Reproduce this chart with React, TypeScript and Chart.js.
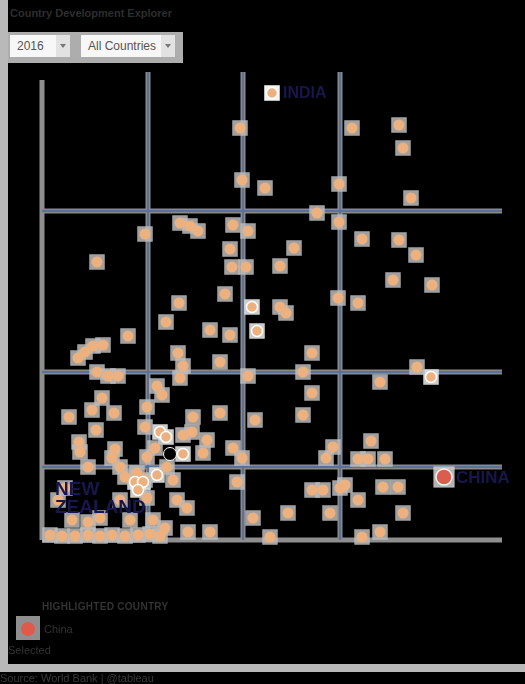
import React, { useEffect, useRef } from "react";
import { Chart, registerables } from "chart.js";
Chart.register(...registerables);

// ---- data ----
const countryX = [
  19.8, 31.0, 35.7, 36.1, 20.0, 22.3, 29.7, 36.9, 27.5, 29.7,
  10.3, 13.8, 14.8, 15.6, 19.1, 20.6, 5.5, 18.8, 19.0, 20.4,
  18.3, 13.7, 12.4, 8.6, 16.8, 18.8, 5.1, 6.1, 4.3, 3.6,
  5.5, 6.6, 7.6, 13.6, 14.1, 13.8, 17.8, 20.6, 32.0, 35.7,
  37.4, 25.2, 23.8, 35.1, 39.0, 29.6, 31.6, 23.8, 24.4, 27.0,
  26.1, 37.5, 33.8, 27.0, 26.1, 6.0, 5.0, 2.7, 7.2, 5.4,
  3.7, 3.8, 7.3, 7.0, 7.8, 4.6, 10.5, 10.3, 11.5, 12.0,
  15.1, 14.1, 15.0, 16.5, 11.3, 16.1, 10.5, 17.8, 21.3, 19.1,
  20.0, 19.5, 13.1, 12.5, 13.5, 14.5, 21.1, 24.6, 16.8, 14.6,
  22.8, 11.1, 12.3, 10.3, 10.5, 29.1, 28.4, 32.9, 31.6, 32.6,
  34.3, 27.0, 28.1, 29.8, 30.3, 31.6, 34.1, 35.6, 28.8, 36.1,
  32.0, 33.8, 8.3, 9.5, 1.6, 3.0, 0.8, 2.0, 3.3, 4.6,
  5.8, 7.0, 8.3, 9.6, 10.8, 11.8, 2.3, 4.6, 7.8, 5.8, 8.8,
];
const countryY = [
  41.2, 41.2, 41.5, 39.2, 36.0, 35.2, 35.6, 34.2, 32.7, 31.8,
  30.6, 31.7, 31.4, 30.9, 31.5, 30.9, 27.8, 29.1, 27.3, 27.3,
  24.6, 23.7, 21.8, 20.4, 21.0, 20.5, 19.4, 19.5, 18.8, 18.2,
  16.8, 16.4, 16.4, 18.7, 17.4, 16.2, 17.8, 16.4, 30.1, 30.0,
  28.5, 29.2, 27.4, 26.0, 25.5, 24.2, 23.7, 23.3, 22.7, 18.7,
  16.8, 17.3, 15.8, 14.7, 12.5, 14.2, 13.0, 12.3, 12.7, 11.0,
  9.8, 8.8, 9.1, 8.2, 7.3, 7.3, 13.3, 11.3, 15.4, 14.5,
  12.3, 10.5, 10.8, 10.0, 9.2, 8.7, 8.3, 12.7, 12.0, 9.2,
  8.2, 5.8, 6.0, 7.3, 4.0, 3.2, 2.2, 2.7, 0.8, 0.8,
  0.3, 2.0, 1.2, 6.0, 4.2, 9.3, 8.2, 9.9, 8.1, 8.1,
  8.1, 5.0, 5.0, 5.2, 5.5, 4.0, 5.3, 5.3, 2.7, 2.7,
  0.3, 0.8, 6.3, 6.7, 4.0, 2.0, 0.5, 0.4, 0.4, 0.5,
  0.4, 0.5, 0.4, 0.5, 0.6, 0.4, 5.2, 1.8, 4.0, 2.2, 2.0,
];
const selectedX = [21.0, 21.5, 38.9, 11.8, 12.4, 14.1, 11.5, 9.3, 10.1, 9.6];
const selectedY = [23.3, 20.9, 16.3, 10.8, 10.3, 8.6, 6.5, 5.8, 5.8, 5.0];
const indiaPoint = [23.0, 44.7];
const chinaPoint = [40.2, 6.3];
const nzPoint = [12.8, 8.6];
const xRefLines = [10.6, 20.1, 29.8];
const yRefLines = [32.9, 16.8, 7.3];
const X_MAX = 46;
const Y_AXIS_TOP = 46;
const Y_MAX = 46.8;

const FONT = '"Liberation Sans", Arial, sans-serif';
const ORANGE = "#ecb17f";
const NAVY = "#17174d";

const labelPlugin = {
  id: "countryLabels",
  afterDatasetsDraw(chart: any) {
    const { ctx, scales } = chart;
    const x = scales.x;
    const y = scales.y;
    ctx.save();
    ctx.fillStyle = NAVY;
    ctx.textBaseline = "middle";
    ctx.textAlign = "left";
    ctx.font = `bold 16px ${FONT}`;
    ctx.fillText("INDIA", x.getPixelForValue(indiaPoint[0]) + 11, y.getPixelForValue(indiaPoint[1]) + 1);
    ctx.font = `bold 17px ${FONT}`;
    ctx.fillText("CHINA", x.getPixelForValue(chinaPoint[0]) + 12, y.getPixelForValue(chinaPoint[1]) + 1);
    ctx.font = `bold 19px ${FONT}`;
    const nx = x.getPixelForValue(nzPoint[0]);
    const ny = y.getPixelForValue(nzPoint[1]);
    ctx.fillText("NEW", nx - 115, ny + 36);
    ctx.fillText("ZEALAND", nx - 115, ny + 54);
    ctx.restore();
  },
};

function toPts(xs: number[], ys: number[]) {
  return xs.map((v, i) => ({ x: v, y: ys[i] }));
}

function ScatterChart() {
  const ref = useRef<HTMLCanvasElement | null>(null);
  useEffect(() => {
    if (!ref.current) return;
    const main = toPts(countryX, countryY);
    const sel = toPts(selectedX, selectedY);
    const datasets: any[] = [];
    // axes
    datasets.push({
      data: [{ x: 0, y: 0 }, { x: 0, y: Y_AXIS_TOP }],
      showLine: true, borderColor: "#8e8e8e", borderWidth: 5, pointRadius: 0, order: 20,
    });
    datasets.push({
      data: [{ x: 0, y: 0 }, { x: X_MAX, y: 0 }],
      showLine: true, borderColor: "#8e8e8e", borderWidth: 5, pointRadius: 0, order: 20,
    });
    // reference lines
    xRefLines.forEach((v) => {
      datasets.push({ data: [{ x: v, y: 0 }, { x: v, y: Y_MAX }], showLine: true, borderColor: "#8a8a8a", borderWidth: 5, pointRadius: 0, order: 19 });
      datasets.push({ data: [{ x: v, y: 0 }, { x: v, y: Y_MAX }], showLine: true, borderColor: "#5c7198", borderWidth: 2, pointRadius: 0, order: 18 });
    });
    yRefLines.forEach((v) => {
      datasets.push({ data: [{ x: 0, y: v }, { x: X_MAX, y: v }], showLine: true, borderColor: "#8a8a8a", borderWidth: 5, pointRadius: 0, order: 19 });
      datasets.push({ data: [{ x: 0, y: v }, { x: X_MAX, y: v }], showLine: true, borderColor: "#5c7198", borderWidth: 2, pointRadius: 0, order: 18 });
    });
    // halos
    datasets.push({ data: main, pointStyle: "rect", pointRadius: 11, backgroundColor: "rgba(188,188,188,0.85)", borderWidth: 0, order: 10 });
    datasets.push({ data: sel, pointStyle: "rect", pointRadius: 11, backgroundColor: "rgba(225,225,225,0.9)", borderWidth: 0, order: 10 });
    datasets.push({ data: [{ x: indiaPoint[0], y: indiaPoint[1] }], pointStyle: "rect", pointRadius: 11, backgroundColor: "#f2f2f2", borderWidth: 0, order: 10 });
    datasets.push({ data: [{ x: chinaPoint[0], y: chinaPoint[1] }], pointStyle: "rect", pointRadius: 15, backgroundColor: "rgba(200,200,200,0.9)", borderWidth: 0, order: 10 });
    // points
    datasets.push({ data: main, pointRadius: 5.5, backgroundColor: ORANGE, borderWidth: 0, order: 5 });
    datasets.push({ data: sel, pointRadius: 5.5, backgroundColor: ORANGE, borderColor: "#ffffff", borderWidth: 1.5, order: 4 });
    datasets.push({ data: [{ x: indiaPoint[0], y: indiaPoint[1] }], pointRadius: 5.5, backgroundColor: ORANGE, borderColor: "#ffffff", borderWidth: 1.5, order: 3 });
    datasets.push({ data: [{ x: chinaPoint[0], y: chinaPoint[1] }], pointRadius: 8, backgroundColor: "#dc5c4e", borderColor: "#f4f4f4", borderWidth: 1.5, order: 2 });
    datasets.push({ data: [{ x: nzPoint[0], y: nzPoint[1] }], pointRadius: 6.5, backgroundColor: "#000000", borderColor: "#ffffff", borderWidth: 1, order: 1 });
    datasets.forEach((d) => { d.clip = false; });

    const chart = new Chart(ref.current, {
      type: "scatter",
      data: { datasets },
      options: {
        animation: false,
        responsive: true,
        maintainAspectRatio: false,
        events: [],
        layout: { padding: { left: 42, right: 23, top: 72, bottom: 144 } },
        plugins: { legend: { display: false }, tooltip: { enabled: false } },
        scales: {
          x: { type: "linear", min: 0, max: X_MAX, display: false },
          y: { type: "linear", min: 0, max: Y_MAX, display: false },
        },
      },
      plugins: [labelPlugin],
    });
    return () => chart.destroy();
  }, []);
  return (
    <div style={{ position: "absolute", left: 0, top: 0, width: 525, height: 684 }}>
      <canvas ref={ref} />
    </div>
  );
}

function Dropdown({ left, width, text }: { left: number; width: number; text: string }) {
  return (
    <div style={{ position: "absolute", left, top: 35, width, height: 22, background: "#f7f7f7", display: "flex" }}>
      <div style={{ flex: 1, fontSize: 12, color: "#555", lineHeight: "22px", paddingLeft: 7, fontFamily: FONT }}>{text}</div>
      <div style={{ width: 14, background: "#e2e2e2", position: "relative" }}>
        <div style={{ position: "absolute", left: 4, top: 9, width: 0, height: 0, borderLeft: "3px solid transparent", borderRight: "3px solid transparent", borderTop: "4px solid #777" }} />
      </div>
    </div>
  );
}

export default function App() {
  return (
    <div style={{ position: "fixed", left: 0, top: 0, width: 525, height: 684, background: "#000", overflow: "hidden", fontFamily: FONT }}>
      <div style={{ position: "absolute", left: 0, top: 0, width: 8, height: 664, background: "#b9b9b9" }} />
      <div style={{ position: "absolute", left: 0, top: 664, width: 525, height: 8, background: "#b9b9b9" }} />
      <div style={{ position: "absolute", left: 10, top: 7, fontSize: 11, color: "#2e2e2e", fontWeight: "bold", whiteSpace: "nowrap" }}>Country Development Explorer</div>
      <div style={{ position: "absolute", left: 8, top: 32, width: 175, height: 31, background: "#adadad" }} />
      <Dropdown left={10} width={60} text="2016" />
      <Dropdown left={81} width={94} text="All Countries" />
      <ScatterChart />
      <div style={{ position: "absolute", left: 42, top: 601, fontSize: 10, color: "#333", fontWeight: "bold", whiteSpace: "nowrap", letterSpacing: 0.3 }}>HIGHLIGHTED COUNTRY</div>
      <div style={{ position: "absolute", left: 16, top: 616, width: 24, height: 24, background: "#8f8f8f" }}>
        <div style={{ position: "absolute", left: 5, top: 6, width: 14, height: 14, borderRadius: 7, background: "#e05a4c" }} />
      </div>
      <div style={{ position: "absolute", left: 44, top: 623, fontSize: 11, color: "#333", whiteSpace: "nowrap" }}>China</div>
      <div style={{ position: "absolute", left: 8, top: 644, fontSize: 11, color: "#333", whiteSpace: "nowrap" }}>Selected</div>
      <div style={{ position: "absolute", left: 0, top: 672, fontSize: 11, color: "#3a3a3a", whiteSpace: "nowrap" }}>Source: World Bank | @tableau</div>
    </div>
  );
}
